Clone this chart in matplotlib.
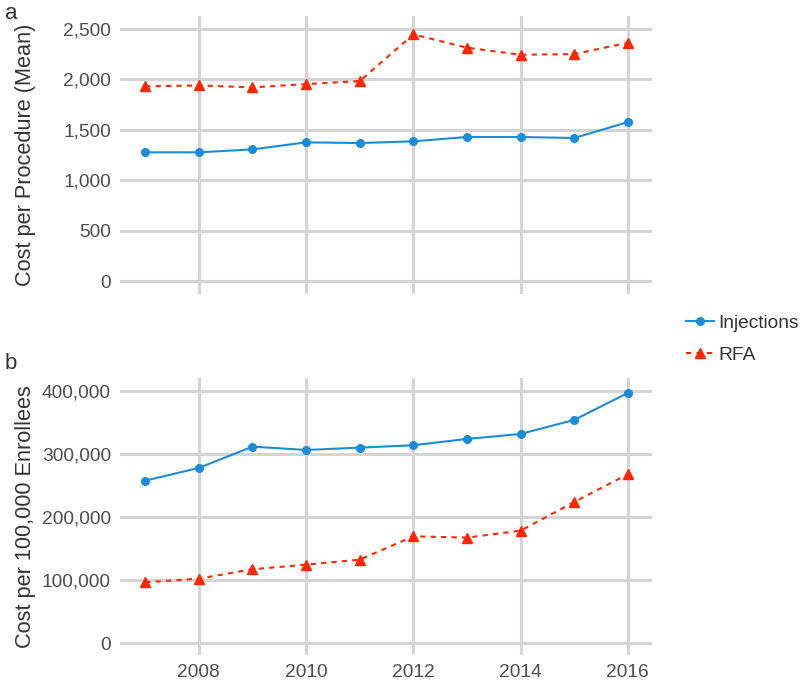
import numpy as np
import matplotlib
matplotlib.use("Agg")
import matplotlib.pyplot as plt
from matplotlib.ticker import FuncFormatter

years = [2007, 2008, 2009, 2010, 2011, 2012, 2013, 2014, 2015, 2016]

# cost per procedure (mean)
inj_mean = [1277, 1277, 1306, 1376, 1369, 1386, 1429, 1429, 1419, 1577]
rfa_mean = [1931, 1941, 1921, 1954, 1984, 2447, 2315, 2245, 2252, 2364]

# cost per 100,000 enrollees
inj_per100k = [257600, 277800, 311600, 306300, 310000, 313800, 323800, 331700, 354000, 396800]
rfa_per100k = [96300, 102100, 117000, 124300, 132300, 169300, 167200, 178300, 223800, 267800]

plt.rcParams['font.family'] = ['Liberation Sans', 'DejaVu Sans']

blue = '#1a8cd8'
red = '#ff2600'
grid_col = '#d4d4d4'
txt_col = '#4d4d4d'

fig = plt.figure(figsize=(8, 6.8), dpi=100)
ax1 = fig.add_axes([0.15, 0.5676, 0.665, 0.4088])
ax2 = fig.add_axes([0.15, 0.0368, 0.665, 0.4078])

def style(ax, show_x):
    for s in ax.spines.values():
        s.set_visible(False)
    ax.grid(True, color=grid_col, linewidth=2.2)
    ax.set_axisbelow(True)
    ax.tick_params(length=0, labelsize=13.8, colors=txt_col, pad=6.5)
    ax.set_xlim(2006.53, 2016.45)
    ax.set_xticks([2008, 2010, 2012, 2014, 2016])
    if not show_x:
        ax.set_xticklabels([])
    ax.yaxis.set_major_formatter(FuncFormatter(lambda v, p: '{:,.0f}'.format(v)))

# top panel
l1, = ax1.plot(years, inj_mean, color=blue, lw=1.5, marker='o', ms=5.5, label='Injections')
l2, = ax1.plot(years, rfa_mean, color=red, lw=1.5, ls=(0, (2.5, 2.5)), marker='^', ms=7, label='RFA')
style(ax1, False)
ax1.set_ylim(-129, 2629)
ax1.set_yticks([0, 500, 1000, 1500, 2000, 2500])
ax1.set_ylabel('Cost per Procedure (Mean)', fontsize=15.7, color='#333333')
ax1.yaxis.set_label_coords(-0.157, 0.5)

# bottom panel
ax2.plot(years, inj_per100k, color=blue, lw=1.5, marker='o', ms=5.5)
ax2.plot(years, rfa_per100k, color=red, lw=1.5, ls=(0, (2.5, 2.5)), marker='^', ms=7)
style(ax2, True)
ax2.set_ylim(-19000, 421000)
ax2.set_yticks([0, 100000, 200000, 300000, 400000])
ax2.set_ylabel('Cost per 100,000 Enrollees', fontsize=15.7, color='#333333')
ax2.yaxis.set_label_coords(-0.157, 0.5)

fig.text(0.006, 0.995, 'a', fontsize=16, color='#333333', va='top', ha='left')
fig.text(0.006, 0.481, 'b', fontsize=16, color='#333333', va='top', ha='left')

fig.legend([l1, l2], ['Injections', 'RFA'], loc='center left',
           bbox_to_anchor=(0.857, 0.501), frameon=False, fontsize=13.8,
           handlelength=1.5, handletextpad=0.2, labelspacing=0.75,
           borderaxespad=0, borderpad=0, labelcolor='#333333')

fig.savefig('out.png', dpi=100)
